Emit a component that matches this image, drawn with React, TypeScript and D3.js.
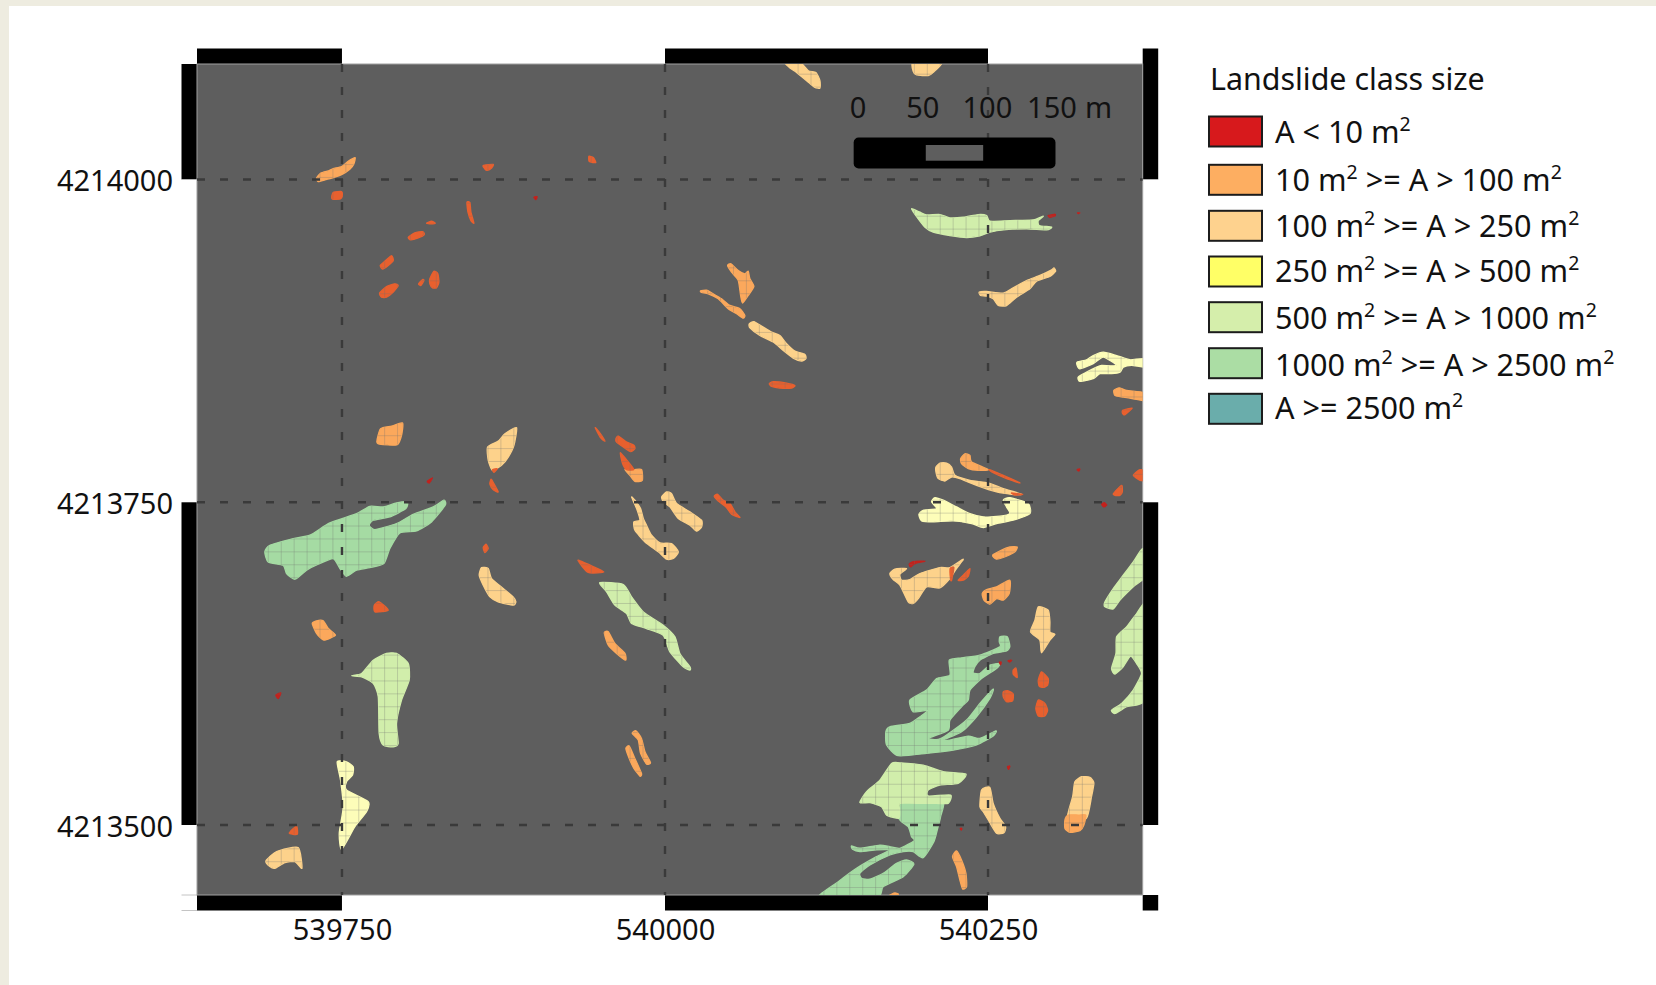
import React, { useRef, useEffect } from 'react';
import * as d3 from 'd3';

type Ring = number[][];

// Landslide outlines, metres east of 539640 and north of 4213450 (UTM)
const E0 = 539640;
const N0 = 4213450;

const specks: Ring[] = [
  [[258.5,536.3],[261.1,536.8],[260.1,534.5]],
  [[176,316.2],[180.1,319],[177.6,315]],
  [[656.6,522.1],[661.8,523.1],[661.8,521.8],[657.9,520.8]],
  [[679.3,524.2],[681.1,524.2],[679.8,523.7]],
  [[697.9,298.4],[699.9,299.7],[701.8,297.9],[699.7,296.4]],
  [[679,325.3],[681.1,325.8],[680.1,324.2]],
  [[549,252],[552.1,254.1],[561.1,254.4],[553.4,252.5],[550,250]],
  [[618.7,176.2],[620.2,176.2],[619.7,174.1]],
  [[625.4,177.2],[628.2,177.7],[626.9,176.2]],
  [[625.1,95.2],[626.9,95.7],[625.9,93.1]],
  [[588.5,47.4],[589.8,47.4],[589.3,46.1]],
  [[58.8,150.6],[62.7,152.4],[60.7,148]],
];

const smallSlides: Ring[] = [
  [[102.2,537.6],[103.7,540.2],[109.7,540.7],[110.2,537.1],[108.9,535],[102.7,534.8]],
  [[219.3,560.8],[227.1,561.8],[225.8,559],[222.4,557.2],[220.6,558.2]],
  [[301.1,568],[304.5,567],[306.5,563.1],[301.4,563.9]],
  [[206.7,532.4],[209,532.2],[209.8,524.7],[212.1,516.2],[209.8,518.2],[207.5,524.7]],
  [[175.5,516.2],[179.3,517.7],[182.2,516.2],[178.6,515.7]],
  [[161.3,505.3],[166.4,508.7],[172.4,509.7],[173.7,507.4],[169,504.8],[163.1,503.3]],
  [[139.6,483.4],[143.2,486.8],[148.4,491.1],[149.7,487.3],[145.8,483.4],[141.4,480.6]],
  [[139.1,462],[144.5,467.2],[151,469.2],[153.5,467.9],[149.7,462.8],[144.5,458.9],[140.6,458.9]],
  [[169.3,469.2],[172.4,472.6],[173.4,471.8],[171.1,467.9]],
  [[178,473.1],[181.1,479],[184.2,477],[185,470.5],[183.2,466.1],[180.1,466.1],[178,469.2]],
  [[226.5,325.2],[230.2,326],[227.6,323.2]],
  [[225.8,317.5],[230.9,308],[227.1,309.7],[224.5,313.9],[225,317]],
  [[306,357.8],[309.1,354.4],[313.5,347.4],[310.1,350]],
  [[322,349.2],[323.8,351.3],[330.3,346.7],[335.9,344.1],[336.7,341.5],[333.4,339.2],[327.7,342.8],[322.5,346.7]],
  [[325.4,338.4],[331.6,331.2],[335.9,325.3],[330.3,325.3],[327.2,329.9]],
  [[440.7,391.8],[443.8,393.4],[454.1,392.3],[460.5,390.5],[458,388.5],[448.9,388.5],[442.5,389.8]],
  [[714.2,371.2],[721.6,373],[716,367.8],[714.2,368.6]],
  [[722.4,320.9],[727.6,325.3],[732.7,323.4],[732.7,317],[727.6,317]],
  [[707,306.7],[713.4,313.1],[713.9,308],[712.1,305.4],[708.2,305.4]],
  [[610.9,325.3],[621.8,320.9],[634.7,315],[624.4,318.3],[614,322.9]],
  [[628.2,307.2],[636.8,306.2],[630.8,305.6]],
  [[580.7,248.7],[583.6,249.4],[581.8,239.6],[581,240.2]],
  [[586.9,239.6],[592.1,244.8],[596,248.7],[594.7,242.7],[590.8,239.6]],
  [[621.8,153.2],[625.6,154],[629.5,151.4],[629,146.2],[624.3,145.5],[621.8,149.3]],
  [[629.5,170],[631.6,171.5],[632.6,164.3],[629.5,166.9]],
  [[648.9,162.2],[651.4,168.7],[656.6,163.5],[656.1,158.4],[652.7,156.6],[649.6,157.6]],
  [[647,140.3],[648.9,146.8],[654,144.2],[656.1,139],[654,134.4],[648.9,134.4]],
  [[219.3,264.9],[221.4,267.5],[223.2,264.2],[220.6,261.1]],
  [[292.6,255.1],[301.9,251.3],[312.7,246.1],[300.6,245.6]],
  [[135,220.3],[138.8,222.9],[145.8,216.4],[135.5,215.1]],
  [[69.2,43.6],[74.8,49.2],[75.4,42.8]],
  [[398.1,304.7],[400.7,306.2],[405.1,301.6],[410.3,299],[414.1,292.6],[418,288.2],[411.5,290.7],[407.2,296.4],[401.2,301]],
];

const orangeSlides: Ring[] = [
  [[90.3,551],[93.4,554.9],[100.1,556.9],[103.2,558.5],[109.7,560],[114.8,564.2],[120.2,567],[119.2,562.1],[116.1,558],[109.7,553.8],[103.2,551.5],[96.8,549.7],[91.6,548.4]],
  [[137.3,349.2],[139.9,357],[148.4,359],[156.9,361.4],[156.1,351.8],[152.8,344.6],[141.9,344.6],[137.3,345.9]],
  [[329,325.5],[335.9,325.3],[341.9,325.3],[342.4,317],[336.7,316.2],[332.8,320.9]],
  [[408.4,483.4],[411,484.7],[416.7,479.5],[421.8,477],[424.4,479],[425.7,473.1],[428.8,467.2],[424.4,460.2],[420,454.3],[418.5,460.2],[416.7,471.8],[411.5,478.2]],
  [[387.5,463.8],[392.2,464.3],[397.3,461.5],[403.8,457.6],[410.2,452.5],[418,449.9],[421.8,444.7],[420.5,442.6],[415.4,446],[408.9,449.9],[401.2,457.6],[393.5,461.5],[388.3,462.5]],
  [[707.4,386.7],[711.6,388.7],[717.2,386.7],[732.7,384.6],[732.7,378.4],[722.4,380.2],[714.7,381.5],[708.2,382.8]],
  [[588.8,333.8],[592.1,337.6],[596,336.3],[597.3,331.2],[610.2,325.3],[602.4,324.7],[594.7,326],[589.5,329.9]],
  [[613.5,259],[620.5,262.9],[626.9,265.4],[632.6,265.4],[630.8,261.6],[624.3,258.2],[616.6,255.9]],
  [[605.5,229.3],[608.9,232.4],[616.6,234.5],[626.9,239.6],[626.4,229.3],[621.8,224.2],[616.6,225.4],[611.4,221.1],[606.8,224.2]],
  [[534,-4.4],[537.9,-2.6],[540.5,-3.4],[539.7,-5.5]],
  [[582.5,25.5],[585.6,29.9],[589.5,22.9],[592.9,12.6],[593.4,2.3],[590.3,0.5],[588.2,7.4],[585.6,17.8]],
  [[672,57.7],[680,57.7],[685.7,57.7],[684.2,50],[681.1,45.6],[673.4,44.3],[669.5,47.4],[669.5,53.9]],
  [[87,206.1],[90.3,208.2],[95.5,208.2],[99.4,202.2],[105,197.1],[96,193.2],[90.3,198.4]],
  [[313,198.9],[316.1,199.7],[321.2,190.6],[329,182.9],[329.5,177.7],[322.5,182.9],[316.1,189.3]],
  [[334.6,121],[337.5,123],[341.8,117.1],[344.5,106.8],[348.8,98.3],[345.7,97.2],[341.1,105.5],[339.3,115.8]],
  [[329.7,109.3],[332.3,111.2],[336.7,101.6],[341.8,90],[340.6,87.9],[335.9,93.9],[332.3,101.6]],
];

const tanSlides: Ring[] = [
  [[222.7,342.8],[231,347.4],[236.1,353.1],[245.1,357.8],[243.1,344.1],[238.7,335],[233.5,328.6],[226.5,324.7],[223.2,332.5]],
  [[452.8,640.8],[464.4,640.8],[470.9,634.3],[476.8,633],[479.9,626.6],[479.9,620.9],[476,621.4],[469.6,626.6],[461.8,633],[456.7,636.4]],
  [[552.1,640.8],[574,640.8],[567.6,633],[563.7,630.5],[554.7,631],[552.1,633.8]],
  [[425.2,438.2],[428.8,440],[434.7,436.5],[442.5,431.8],[448.9,429.2],[454.1,422.8],[460.5,417.1],[468.3,414.5],[469,411.2],[465.7,409.4],[459.2,411.7],[451.5,417.6],[443.8,424.1],[433.4,429.2],[425.7,435.2]],
  [[603.2,462.8],[608.9,463.3],[621.8,462],[629.5,466.1],[639.8,471.8],[650.2,475.7],[659.2,480],[661,481.6],[662.3,479],[657.9,474.9],[647.6,471.3],[642.4,465.4],[632.1,458.9],[624.4,452.4],[617.9,452.4],[614,457.6],[608.9,459.7],[604.2,460.2]],
  [[569.7,327.3],[572.8,330.4],[577.9,330.4],[581.8,327.3],[584.4,320.9],[596,317],[610.2,315],[621.8,310.6],[636,306.2],[628.2,306.2],[616.6,308],[601.1,313.1],[588.2,318.3],[581.8,319.6],[576.6,316.5],[571.5,318.3],[569.7,323.4]],
  [[534,244.8],[537.9,248.2],[546.9,248.7],[541.8,244.3],[543.1,239.6],[549.5,240.2],[557.3,244.8],[572.7,249.4],[580.5,249.4],[590.8,255.9],[585.6,248.7],[580.5,240.9],[572.7,233.7],[562.4,234.5],[556,225.4],[552.1,221.6],[548.2,222.9],[541.8,235.8],[536.6,240.2]],
  [[648.9,219],[656.6,216.4],[657.9,207.4],[657.9,199.6],[661.8,197.8],[657.9,193.2],[651.4,183.4],[650.1,193.2],[642.9,199.6],[646.3,208.7]],
  [[605,77.1],[611.4,79.2],[614,66.8],[619.2,55.2],[623.6,48.7],[622.3,44.1],[616.6,43.6],[610.2,53.9],[606.3,60.3],[603.7,64.2]],
  [[677.2,83.5],[682.4,87.4],[688.8,86.9],[691.9,82.8],[690.1,72],[686,55],[671.5,55],[675.5,72]],
  [[334.1,304.1],[336.7,301.6],[341.1,295.1],[343.2,287.4],[345.7,282.2],[349.6,274.5],[356.1,268.5],[365.1,268],[370.3,261.6],[366.4,256.4],[361.2,255.9],[354.8,261.6],[344.5,269.3],[336.7,278.3],[335.9,284.8],[340.6,286.1],[338,295.1]],
  [[357.4,304.2],[361.2,308],[365.1,306.7],[369,299],[379.3,292.6],[388.3,286.1],[388.3,280.9],[384.5,277.6],[379.3,282.2],[370.3,287.4],[363.8,296.4],[358.7,300.3]],
  [[216.2,243.5],[218,249.4],[223.2,248.7],[225.8,240.9],[234.8,233.2],[242.5,226.7],[244.6,222.9],[242.5,220.3],[230.9,222.9],[224.5,226.7],[219.3,235.8]],
  [[51.1,22.2],[59.4,29.4],[76.1,32.5],[79,16.5],[73.6,21.6],[65.8,20.9],[58.1,16.5],[54.2,17.8]],
];

const yellowSlides: Ring[] = [
  [[679,408.6],[686.3,410.4],[691.4,413.7],[699.2,416.3],[709.5,413.7],[719.8,410.4],[730.1,411.2],[732.7,404.7],[721.1,406],[714.7,404.7],[712.1,400.8],[705.6,399.6],[696.6,399.6],[691.4,395.7],[681.1,393.6],[679.8,397],[686.3,400.8],[694,404.7],[697.9,406],[709.5,406],[699.2,412.5],[691.4,407.3],[681.1,403.4],[679,406]],
  [[556.5,290.7],[559.8,293.8],[570.2,295.1],[566.3,300.3],[568.9,303.6],[575.3,301.6],[585.6,296.4],[596,291.2],[606.3,288.7],[619.2,289.2],[626.9,291.2],[624.3,296.4],[621.8,301.6],[626.9,303.6],[641.1,299],[642.4,291.2],[629.5,286.1],[616.6,283.5],[606.3,280.4],[597.3,283.5],[583.1,285.6],[567.6,284.8],[558.6,285.6]],
  [[106.3,99],[113.5,99],[118.7,95.2],[118.2,88.7],[113.5,83.6],[113.5,77.1],[130.3,68.1],[129,60.3],[120,48.7],[109.7,31.2],[107.9,43.6],[111,64.2],[108.9,84.8]],
];

const paleSlides: Ring[] = [
  [[550.8,527.3],[557.3,524.7],[562.4,522.6],[572.8,522.9],[580.5,520.3],[590.8,520.8],[602.4,522.9],[608.9,522.1],[611.5,517.7],[627,518.2],[645,518.8],[652.7,521.6],[648.9,518.2],[649.6,514.4],[659.2,513.1],[655.3,511],[639.8,511.8],[621.8,511],[611.5,509.2],[603.7,506.4],[593.4,505.1],[580.5,506.6],[567.6,509.2],[561.2,513.1],[556,519.5]],
  [[535.3,97.7],[541.8,98.2],[559.8,96.4],[575.3,91.3],[592.9,89.5],[586.9,82.3],[572.7,81],[563.7,77.1],[563.7,72.5],[581,73.2],[579.2,66.8],[570,66.8],[555,66.8],[541.8,66.8],[541.6,61],[541,55.2],[531.5,57.7],[527.6,64.2],[518.6,67.3],[510.8,67.5],[516,75.8],[526.3,84.8]],
  [[730.1,264.2],[722.4,253.8],[714.6,243.5],[706.9,233.2],[700.5,222.9],[700.5,219],[706.9,217.4],[712.1,224.2],[722.4,234.5],[732.7,243.5]],
  [[732.7,220.3],[725,213.8],[717.2,203.5],[709.5,195.8],[709,182.9],[705.6,171.3],[708.2,166.9],[714.6,172.6],[720.3,180.8],[725,175.1],[728.8,167.4],[722.4,154.5],[713.4,144.2],[705.6,139],[708.2,136.4],[717.2,141.6],[732.7,149.3]],
  [[309.6,237.8],[327.7,236.3],[334.1,226.7],[343.2,215.1],[358.6,204.8],[367.7,195.8],[371.5,182.9],[379.3,172.6],[379.3,170],[374.1,172.6],[363.8,184.2],[358.6,197],[345.7,202.2],[334.1,206.1],[330.3,213.8],[321.2,220.3],[314.8,230.6]],
  [[117.4,165.6],[125.2,167.4],[134.2,177.7],[144.5,182.9],[152.2,182.9],[161.3,175.1],[162,162.2],[156.1,146.8],[152.2,128.7],[153.5,113.2],[149.7,110.6],[141.9,111.9],[138.8,121],[138.1,149.3],[134.2,159.7],[125.2,164.8]],
];

const greenSlides: Ring[] = [
  [[619.2,195.8],[624.9,195.8],[626.9,188.5],[624.3,184.9],[614,182.9],[603.7,177.7],[599.8,172.6],[598.5,167.9],[603.7,167.4],[611.4,173.9],[619.2,175.1],[616.6,171.3],[605,163.5],[596,154.5],[594.7,146.8],[589.5,141.6],[580.5,131.3],[579.2,123.5],[563.7,117.1],[571.5,116.3],[577.9,119.7],[593.4,131.3],[603.7,144.2],[614,155.3],[611.4,148],[601.1,133.9],[589.5,122.2],[575.3,115.8],[580.5,115.8],[594.7,118.9],[603.7,117.1],[616.1,123],[614,118.9],[601.1,112],[583.1,108],[562.4,105.5],[540.5,103.7],[531.5,112],[530.9,122.2],[534,126.1],[549.5,128.7],[557.3,133.9],[563.7,139],[552.1,137.7],[549.5,146.8],[562.4,154.5],[570.2,163.5],[580.5,166.1],[580,177.7],[589.5,179.5],[603.7,181.6],[619.2,188],[618.7,191.9]],
  [[545,70],[575,70],[573.3,56.5],[570.7,46.1],[568.1,37.1],[559.8,24.7],[552.1,29.4],[544.4,29.4],[534,26.8],[518.6,19],[510.8,12.6],[512.1,8.7],[518.6,8],[528.9,12.6],[539.2,20.3],[546.9,22.9],[552.6,19.8],[544.4,10],[528.9,2.3],[523.7,-6.8],[478.6,-6.8],[494.1,6.1],[508.2,16.5],[523.7,25.5],[534,30.7],[523.7,30.7],[510.8,29.4],[505.1,31.2],[504.4,33.8],[510.8,32],[526.3,34.5],[534,33.2],[541.8,32],[552.9,37.9],[550.8,41],[548.2,48.7],[541,55.2]],
  [[50.3,261.6],[54.2,266.7],[72.3,271.9],[85.2,274.5],[100.6,284],[121.3,291.2],[131.6,296.9],[141.9,296.4],[152.2,299.5],[160.5,300.3],[159.5,295.1],[147.1,288.7],[134.2,286.1],[131.1,282.2],[135.5,278.9],[152.2,283.5],[165.1,290.7],[180.6,296.4],[188.9,301.6],[189.9,297.7],[179.3,284.8],[167.7,277.8],[154.8,276.3],[147.1,264.2],[142.4,252.5],[131.6,249.4],[121.3,247.4],[113.5,242.7],[108.4,248.7],[103.2,256.4],[91.6,252],[82.6,247.4],[73.6,240.4],[67.1,244.8],[64.5,251.2],[52.9,253.8]],
];

const slideClasses: { rings: Ring[]; fill: string }[] = [
  { rings: greenSlides, fill: '#a5dba3' },
  { rings: paleSlides, fill: '#d1eeab' },
  { rings: yellowSlides, fill: '#fdfdb9' },
  { rings: tanSlides, fill: '#fdd28b' },
  { rings: orangeSlides, fill: '#fba85b' },
  { rings: smallSlides, fill: '#e8602f' },
  { rings: specks, fill: '#c2211f' },
];

const legendTitle = 'Landslide class size';
const legendLabels = [
  'A < 10 m²',
  '10 m² >= A > 100 m²',
  '100 m² >= A > 250 m²',
  '250 m² >= A > 500 m²',
  '500 m² >= A > 1000 m²',
  '1000 m² >= A > 2500 m²',
  'A >= 2500 m²',
];
const legendColors = ['#d7191c', '#fdae61', '#fed28e', '#ffff66', '#d5eeab', '#abdda4', '#6aadab'];
const legendTops = [116.5, 164.8, 210.8, 256.5, 302.2, 348.2, 393.8];
const legendBaselines = [142.7, 190.8, 236.5, 281.8, 328.8, 375.8, 418.8];

const xTicks = [539750, 540000, 540250];
const yTicks = [4213500, 4213750, 4214000];
const scaleStops = [0, 50, 100, 150];

const FONT = '"Noto Sans", sans-serif';
const TICK_SIZE = 29;

function App() {
  const svgRef = useRef<SVGSVGElement>(null);

  useEffect(() => {
    const svg = d3.select(svgRef.current);
    svg.selectAll('*').remove();

    // page margin of the screenshot
    svg.append('rect').attr('width', 1656).attr('height', 985).attr('fill', '#eeece0');
    svg.append('rect').attr('x', 9).attr('y', 6).attr('width', 1647).attr('height', 979).attr('fill', '#ffffff');

    const x = d3.scaleLinear().domain([539637.8, 540369.7]).range([197, 1142.7]);
    const y = d3.scaleLinear().domain([4213445.8, 4214089.5]).range([895, 64]);
    const [xMin, xMax] = x.domain();
    const [yMin, yMax] = y.domain();
    const frame = 15.5;

    const line = d3.line<number[]>()
      .x(d => x(E0 + d[0]))
      .y(d => y(N0 + d[1]))
      .curve(d3.curveCardinalClosed.tension(0.4));

    const defs = svg.append('defs');
    defs.append('clipPath').attr('id', 'map-clip')
      .append('rect').attr('x', x(xMin)).attr('y', y(yMax))
      .attr('width', x(xMax) - x(xMin)).attr('height', y(yMin) - y(yMax));
    const slideClip = defs.append('clipPath').attr('id', 'slide-clip');
    slideClasses.forEach(c => {
      slideClip.selectAll(null).data(c.rings).enter().append('path').attr('d', d => line(d));
    });
    defs.append('filter').attr('id', 'soft')
      .append('feGaussianBlur').attr('stdDeviation', 0.45);

    // checkered map frame
    const xStops = [xMin, ...xTicks, xMax];
    const yStops = [yMax, ...[...yTicks].reverse(), yMin];
    const frameG = svg.append('g');
    xStops.slice(0, -1).forEach((v, i) => {
      const fill = i % 2 === 0 ? '#000' : '#fff';
      const w = x(xStops[i + 1]) - x(v);
      frameG.append('rect').attr('x', x(v)).attr('y', y(yMax) - frame).attr('width', w).attr('height', frame).attr('fill', fill);
      frameG.append('rect').attr('x', x(v)).attr('y', y(yMin)).attr('width', w).attr('height', frame).attr('fill', fill);
    });
    yStops.slice(0, -1).forEach((v, i) => {
      const fill = i % 2 === 0 ? '#000' : '#fff';
      const h = y(yStops[i + 1]) - y(v);
      frameG.append('rect').attr('x', x(xMin) - frame).attr('y', y(v)).attr('width', frame).attr('height', h).attr('fill', fill);
      frameG.append('rect').attr('x', x(xMax)).attr('y', y(v)).attr('width', frame).attr('height', h).attr('fill', fill);
    });
    frameG.append('rect').attr('x', x(xMax)).attr('y', y(yMax) - frame).attr('width', frame).attr('height', frame).attr('fill', '#000');
    frameG.append('rect').attr('x', x(xMax)).attr('y', y(yMin)).attr('width', frame).attr('height', frame).attr('fill', '#000');
    // open corner at the bottom left, only its two long sides show
    [y(yMin), y(yMin) + frame].forEach(v => {
      frameG.append('line').attr('x1', x(xMin) - frame).attr('x2', x(xMin)).attr('y1', v).attr('y2', v)
        .attr('stroke', '#c4c4c4').attr('stroke-width', 1);
    });

    // map background
    svg.append('rect').attr('x', x(xMin)).attr('y', y(yMax))
      .attr('width', x(xMax) - x(xMin)).attr('height', y(yMin) - y(yMax))
      .attr('fill', '#5e5e5e').attr('stroke', '#a0a0a0').attr('stroke-width', 1);

    // landslide polygons, with the faint cell grid showing through them
    const mapG = svg.append('g').attr('clip-path', 'url(#map-clip)');
    const polyG = mapG.append('g').attr('filter', 'url(#soft)');
    slideClasses.forEach(c => {
      polyG.append('g').attr('fill', c.fill).attr('stroke', c.fill).attr('stroke-width', 1.3).attr('stroke-linejoin', 'round')
        .selectAll('path').data(c.rings).enter().append('path').attr('d', d => line(d));
    });
    const cellG = mapG.append('g').attr('clip-path', 'url(#slide-clip)')
      .attr('stroke', 'rgba(110,110,110,0.28)').attr('stroke-width', 1);
    d3.range(539643, 540370, 10).forEach(e => {
      cellG.append('line').attr('x1', x(e)).attr('x2', x(e)).attr('y1', y(yMax)).attr('y2', y(yMin));
    });
    d3.range(4213451.6, 4214090, 10).forEach(n => {
      cellG.append('line').attr('x1', x(xMin)).attr('x2', x(xMax)).attr('y1', y(n)).attr('y2', y(n));
    });

    // dashed graticule
    const gridG = svg.append('g').attr('stroke', '#3a3a3a').attr('stroke-width', 2.4).attr('stroke-dasharray', '8 15');
    xTicks.forEach(t => {
      gridG.append('line').attr('x1', x(t)).attr('x2', x(t)).attr('y1', y(yMax)).attr('y2', y(yMin));
    });
    yTicks.forEach(t => {
      gridG.append('line').attr('x1', x(xMin)).attr('x2', x(xMax)).attr('y1', y(t)).attr('y2', y(t));
    });

    // axes
    const xAxis = svg.append('g').attr('transform', `translate(0,${y(yMin) + frame - 1})`)
      .call(d3.axisBottom(x).tickValues(xTicks).tickSize(0).tickPadding(9.4).tickFormat(d3.format('d')));
    const yAxis = svg.append('g').attr('transform', `translate(${x(xMin) - frame},2)`)
      .call(d3.axisLeft(y).tickValues(yTicks).tickSize(0).tickPadding(8.5).tickFormat(d3.format('d')));
    [xAxis, yAxis].forEach(a => {
      a.select('.domain').remove();
      a.selectAll('text').attr('fill', '#111').attr('font-family', FONT).attr('font-size', TICK_SIZE);
    });

    // scale bar, 1 m on the ground through the x scale
    const bar = (m: number) => x(539637.8) + 511.7 * 1.2921 + m * 1.2921;
    const barG = svg.append('g');
    barG.append('rect').attr('x', bar(0) - 4.5).attr('y', 137.5).attr('width', bar(150) - bar(0) + 8)
      .attr('height', 31).attr('rx', 5).attr('fill', '#000');
    barG.append('rect').attr('x', bar(50) + 3).attr('y', 145).attr('width', bar(100) - bar(50) - 7.2)
      .attr('height', 15.7).attr('fill', '#5e5e5e');
    barG.selectAll('text').data(scaleStops).enter().append('text')
      .attr('x', d => bar(d)).attr('y', 118)
      .attr('text-anchor', 'middle').attr('font-family', FONT).attr('font-size', TICK_SIZE).attr('fill', '#111')
      .text(d => d);
    barG.append('text').attr('x', bar(150) + 46.7).attr('y', 118).attr('text-anchor', 'middle')
      .attr('font-family', FONT).attr('font-size', TICK_SIZE).attr('fill', '#111').text('m');

    // legend
    const legend = svg.append('g').attr('font-family', FONT).attr('fill', '#111');
    legend.append('text').attr('x', 1210).attr('y', 90).attr('font-size', 30.4).text(legendTitle);
    legend.selectAll('rect').data(legendColors).enter().append('rect')
      .attr('x', 1209).attr('y', (_, i) => legendTops[i]).attr('width', 53).attr('height', 30)
      .attr('fill', d => d).attr('stroke', '#1c1c1c').attr('stroke-width', 2);
    legendLabels.forEach((label, i) => {
      const t = legend.append('text').attr('x', 1275).attr('y', legendBaselines[i]).attr('font-size', 30.6);
      const parts = label.split('²');
      parts.forEach((part, k) => {
        t.append('tspan').attr('dy', k > 0 ? 12 : 0).text(part);
        if (k < parts.length - 1) {
          t.append('tspan').attr('dy', -12).attr('font-size', 19.5).text('2');
        }
      });
    });
  }, []);

  return <svg ref={svgRef} width={1656} height={985} style={{ position: 'absolute', left: 0, top: 0, display: 'block' }} />;
}

export default App;
